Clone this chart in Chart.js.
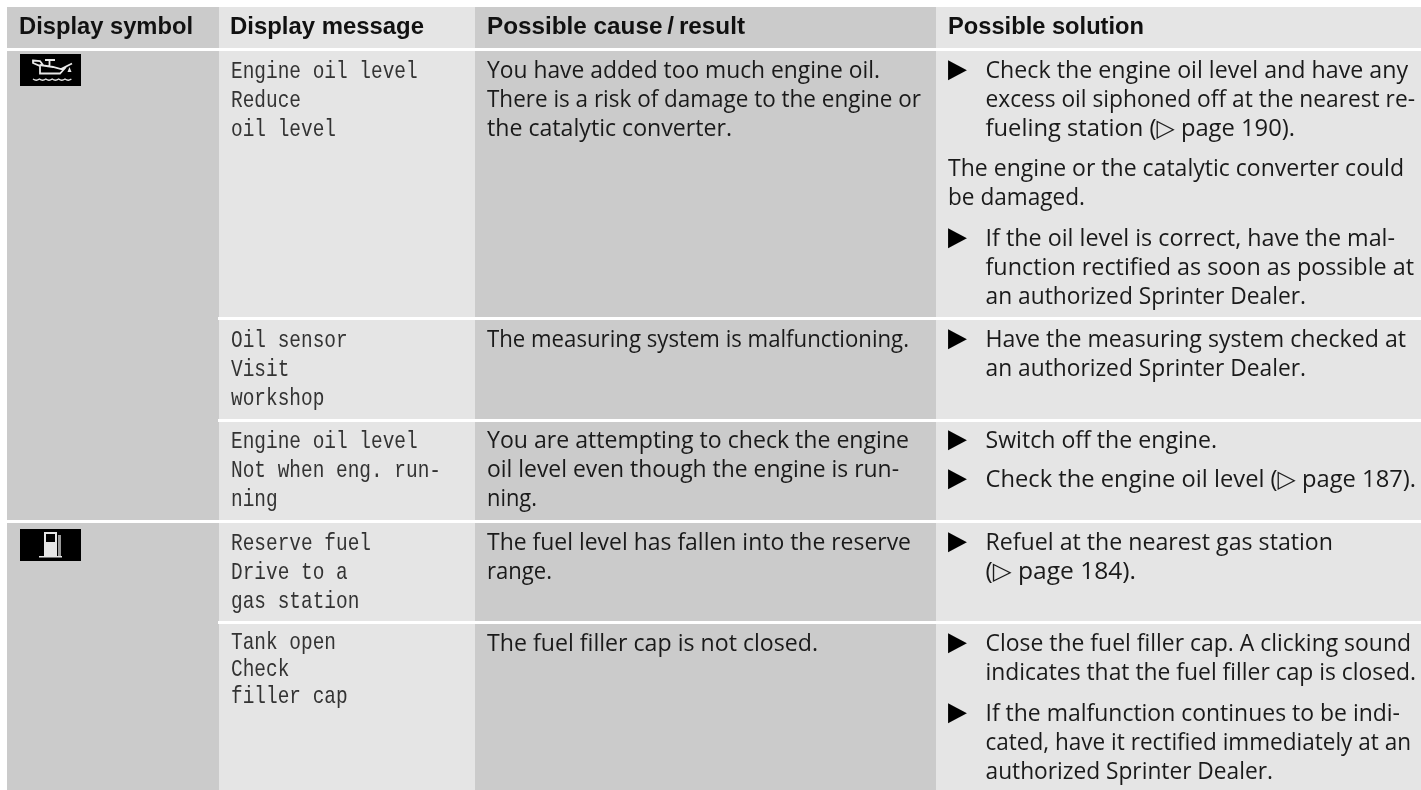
<!DOCTYPE html>
<html>
<head>
<meta charset="utf-8">
<script src="https://cdn.jsdelivr.net/npm/chart.js@4"></script>
<style>
  html, body { margin: 0; padding: 0; background: #ffffff; overflow: hidden; }
  canvas { display: block; }
</style>
</head>
<body>
<canvas id="faultTable" width="1421" height="790"></canvas>
<script>
// column edges and horizontal white rules, in page units
const columnEdges = [7, 219, 475, 936, 1421];
const columnColors = ["#cbcbcb", "#e5e5e5", "#cbcbcb", "#e5e5e5"];
const ruleTops = [48, 317, 419, 520, 621];
const ruleBottoms = [51, 320, 422, 523, 624];
const ruleStarts = [0, 218, 218, 0, 218];
const tableTop = 7;
const tableBottom = 790;

const headers = ["Display symbol", "Display message", "Possible cause\u2009/\u2009result", "Possible solution"];
const headerX = [19, 230, 487, 948];
const headerEnds = [193, 424, 745, 1144];
const headerBaseline = 34;

// display messages (monospaced column)
const messageLines = [
    "Engine oil level", "Reduce", "oil level",
    "Oil sensor", "Visit", "workshop",
    "Engine oil level", "Not when eng. run-", "ning",
    "Reserve fuel", "Drive to a", "gas station",
    "Tank open", "Check", "filler cap"
];
const messageBaselines = [78, 107, 136, 347, 376, 405, 448, 477, 506, 550, 579, 608, 649, 676, 703];

// possible cause / result
const causeLines = [
    "You have added too much engine oil.",
    "There is a risk of damage to the engine or",
    "the catalytic converter.",
    "The measuring system is malfunctioning.",
    "You are attempting to check the engine",
    "oil level even though the engine is run-",
    "ning.",
    "The fuel level has fallen into the reserve",
    "range.",
    "The fuel filler cap is not closed."
];
const causeBaselines = [78, 107, 136, 347, 448, 477, 506, 550, 579, 651];
const causeEnds = [880, 921, 732, 909, 909, 899, 537, 911, 552, 818];

// possible solution, indented lines follow a bullet
const solutionLines = [
    "Check the engine oil level and have any",
    "excess oil siphoned off at the nearest re-",
    "fueling station (\u25B7 page 190).",
    "If the oil level is correct, have the mal-",
    "function rectified as soon as possible at",
    "an authorized Sprinter Dealer.",
    "Have the measuring system checked at",
    "an authorized Sprinter Dealer.",
    "Switch off the engine.",
    "Check the engine oil level (\u25B7 page 187).",
    "Refuel at the nearest gas station",
    "(\u25B7 page 184).",
    "Close the fuel filler cap. A clicking sound",
    "indicates that the fuel filler cap is closed.",
    "If the malfunction continues to be indi-",
    "cated, have it rectified immediately at an",
    "authorized Sprinter Dealer."
];
const solutionBaselines = [78, 107, 136, 246, 275, 304, 347, 376, 448, 487, 550, 579, 651, 680, 721, 750, 779];
const solutionEnds = [1408, 1415, 1295, 1395, 1414, 1306, 1406, 1306, 1217, 1416, 1333, 1136, 1411, 1416, 1400, 1411, 1273];

const plainLines = ["The engine or the catalytic converter could", "be damaged."];
const plainBaselines = [176, 205];
const plainEnds = [1404, 1085];

const bulletBaselines = [76.5, 244.5, 345.5, 446.5, 485.5, 548.5, 649.5, 719.5];

// black icon boxes
const iconLeft = 20;
const iconRight = 81;
const iconTops = [54, 529];
const iconBottoms = [86, 561];

function band(x0, x1, y0, y1, color) {
    return {
        data: [{ x: x0, y: y0 }, { x: x1, y: y0 }],
        showLine: true,
        fill: { value: y1 },
        backgroundColor: color,
        borderWidth: 0,
        pointRadius: 0
    };
}

// first dataset ends up on top
const datasets = [];
iconTops.forEach((top, i) => {
    datasets.push(band(iconLeft, iconRight, top, iconBottoms[i], "#000000"));
});
ruleTops.forEach((top, i) => {
    datasets.push(band(ruleStarts[i], 1421, top, ruleBottoms[i], "#ffffff"));
});
columnColors.forEach((color, i) => {
    datasets.push(band(columnEdges[i], columnEdges[i + 1], tableTop, tableBottom, color));
});

const BODY_FONT = '24px "Open Sans", "DejaVu Sans"';
const HEAD_FONT = 'bold 24px "Liberation Sans"';
const MONO_FONT = '24px "Liberation Mono"';

// squeezed text, the original faces are narrower than what is installed
function putText(ctx, chart, text, x, y, font, color, sx) {
    const px = chart.scales.x.getPixelForValue(x);
    const py = chart.scales.y.getPixelForValue(y);
    ctx.save();
    ctx.translate(px, py);
    ctx.scale(sx, 1);
    ctx.font = font;
    ctx.fillStyle = color;
    ctx.textBaseline = "alphabetic";
    ctx.fillText(text, 0, 0);
    ctx.restore();
}

// same, but the line has to end where it ends in the reference
function fitText(ctx, chart, text, x, end, y, font, color) {
    ctx.font = font;
    const sx = (end - x) / ctx.measureText(text).width;
    putText(ctx, chart, text, x, y, font, color, sx);
}

function drawOilCan(ctx, x, y) {
    ctx.save();
    ctx.translate(x, y);
    ctx.strokeStyle = "#e8e8e8";
    ctx.fillStyle = "#e8e8e8";
    ctx.lineWidth = 1.8;
    ctx.beginPath();
    ctx.moveTo(20, 11); ctx.lineTo(33, 13); ctx.lineTo(41, 15); ctx.lineTo(52, 9.5);
    ctx.moveTo(13, 6.5); ctx.lineTo(20, 7); ctx.lineTo(23, 11); ctx.lineTo(19, 11.5); ctx.lineTo(13, 9); ctx.closePath();
    ctx.moveTo(25, 6); ctx.lineTo(35, 6);
    ctx.moveTo(29.5, 6); ctx.lineTo(29.5, 12);
    ctx.moveTo(20, 11); ctx.lineTo(20, 19.5); ctx.lineTo(40, 19.5); ctx.lineTo(46, 13);
    ctx.stroke();
    ctx.beginPath();
    ctx.moveTo(49.5, 13); ctx.lineTo(51.5, 18); ctx.lineTo(47.5, 18); ctx.closePath();
    ctx.fill();
    // waves
    ctx.lineWidth = 1.3;
    ctx.beginPath();
    ctx.moveTo(13, 25);
    for (let wx = 13; wx < 51; wx += 6.4) {
        ctx.quadraticCurveTo(wx + 3.2, 27.5, wx + 6.4, 25);
    }
    ctx.stroke();
    ctx.restore();
}

function drawPump(ctx, x, y) {
    ctx.save();
    ctx.translate(x, y);
    ctx.fillStyle = "#e6e6e6";
    ctx.fillRect(24, 3, 13, 25);
    ctx.fillRect(19, 27, 23, 1.5);
    ctx.fillStyle = "#000000";
    ctx.fillRect(26, 5, 9, 8);
    ctx.fillStyle = "#9a9a9a";
    ctx.fillRect(38, 6, 3, 21);
    ctx.restore();
}

const tableText = {
    id: "tableText",
    afterDatasetsDraw(chart) {
        const ctx = chart.ctx;
        headers.forEach((h, i) => fitText(ctx, chart, h, headerX[i], headerEnds[i], headerBaseline, HEAD_FONT, "#111111"));
        messageLines.forEach((t, i) => putText(ctx, chart, t, 231, messageBaselines[i], MONO_FONT, "#333333", 0.81));
        causeLines.forEach((t, i) => fitText(ctx, chart, t, 487, causeEnds[i], causeBaselines[i], BODY_FONT, "#1a1a1a"));
        solutionLines.forEach((t, i) => fitText(ctx, chart, t, 985.5, solutionEnds[i], solutionBaselines[i], BODY_FONT, "#1a1a1a"));
        plainLines.forEach((t, i) => fitText(ctx, chart, t, 948, plainEnds[i], plainBaselines[i], BODY_FONT, "#1a1a1a"));
        bulletBaselines.forEach(b => putText(ctx, chart, "\u25B6", 948, b, '26px "DejaVu Sans"', "#000000", 0.95));
        const ix = chart.scales.x.getPixelForValue(iconLeft);
        drawOilCan(ctx, ix, chart.scales.y.getPixelForValue(iconTops[0]));
        drawPump(ctx, ix, chart.scales.y.getPixelForValue(iconTops[1]));
    }
};

new Chart(document.getElementById("faultTable").getContext("2d"), {
    type: "scatter",
    data: { datasets },
    options: {
        responsive: false,
        animation: false,
        layout: { padding: 0 },
        plugins: { legend: { display: false }, tooltip: { enabled: false }, title: { display: false } },
        scales: {
            x: { type: "linear", display: false, min: 0, max: 1421 },
            y: { type: "linear", display: false, min: 0, max: 790, reverse: true }
        }
    },
    plugins: [tableText]
});
</script>
</body>
</html>
